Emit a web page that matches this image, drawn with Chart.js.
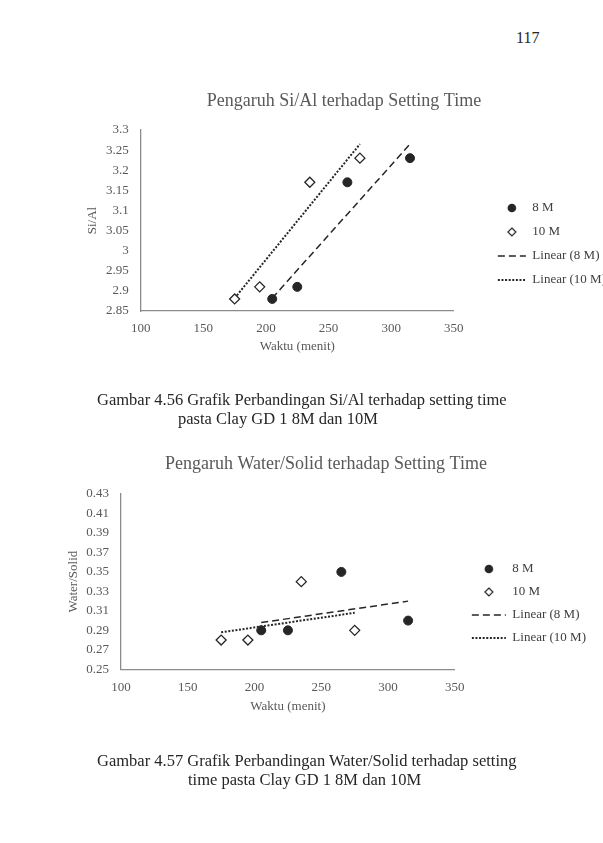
<!DOCTYPE html>
<html>
<head>
<meta charset="utf-8">
<script src="https://cdn.jsdelivr.net/npm/chart.js@4.4.1/dist/chart.umd.min.js"></script>
<style>
html, body { margin: 0; padding: 0; width: 603px; height: 843px; overflow: hidden; background: #fff; }
body { position: relative; font-family: "Liberation Serif", "Times New Roman", serif; color: #262626; }
canvas { position: absolute; }
.txt { position: absolute; white-space: nowrap; font-size: 16.5px; line-height: 20px; }
</style>
</head>
<body>
<div class="txt" style="left:516px; top:28px; font-size:16px;">117</div>

<canvas id="chart1" width="544" height="328" style="left:72px; top:80px;"></canvas>
<div class="txt" style="left:97px; top:390px;">Gambar 4.56 Grafik Perbandingan Si/Al terhadap setting time</div>
<div class="txt" style="left:178px; top:409px;">pasta Clay GD 1 8M dan 10M</div>

<canvas id="chart2" width="540" height="321" style="left:56px; top:443px;"></canvas>
<div class="txt" style="left:97px; top:751px;">Gambar 4.57 Grafik Perbandingan Water/Solid terhadap setting</div>
<div class="txt" style="left:188px; top:770px;">time pasta Clay GD 1 8M dan 10M</div>

<script>
// setting time (menit) for each sample
var waktu8M = [205, 225, 265, 315];
var waktu10M = [175, 195, 235, 275];

// Si/Al ratio
var siAl8M = [2.88, 2.91, 3.17, 3.23];
var siAl10M = [2.88, 2.91, 3.17, 3.23];

// water/solid ratio
var ws8M = [0.29, 0.29, 0.35, 0.30];
var ws10M = [0.28, 0.28, 0.34, 0.29];

// trendline end points
var trendX8M = [205, 315];
var trendX10M = [175, 275];
var siAlTrend8M = [2.882, 3.265];
var siAlTrend10M = [2.882, 3.265];
var wsTrend8M = [0.298, 0.320];
var wsTrend10M = [0.288, 0.308];

// tick labels
var xTicks = [100, 150, 200, 250, 300, 350];
var siAlTicks = [2.85, 2.9, 2.95, 3, 3.05, 3.1, 3.15, 3.2, 3.25, 3.3];
var siAlTickLabels = ['2.85', '2.9', '2.95', '3', '3.05', '3.1', '3.15', '3.2', '3.25', '3.3'];
var wsTicks = [0.25, 0.27, 0.29, 0.31, 0.33, 0.35, 0.37, 0.39, 0.41, 0.43];
var wsTickLabels = ['0.25', '0.27', '0.29', '0.31', '0.33', '0.35', '0.37', '0.39', '0.41', '0.43'];

var seriesNames = ['8 M', '10 M', 'Linear (8 M)', 'Linear (10 M)'];

Chart.defaults.font.family = "'Liberation Serif', 'Times New Roman', serif";
Chart.defaults.color = '#595959';

function points(xs, ys) {
    return xs.map(function(x, i) { return {x: x, y: ys[i]}; });
}

// small legend glyphs, so that pointStyleWidth only stretches the lines
function glyph(kind) {
    var c = document.createElement('canvas');
    c.width = 12; c.height = 12;
    var g = c.getContext('2d');
    g.beginPath();
    if (kind === 'circle') {
        g.arc(6, 6, 4.3, 0, Math.PI * 2);
        g.fillStyle = '#262626';
        g.fill();
    } else {
        g.moveTo(6, 2); g.lineTo(10, 6); g.lineTo(6, 10); g.lineTo(2, 6); g.closePath();
        g.fillStyle = '#fff';
        g.fill();
        g.lineWidth = 1.2;
        g.strokeStyle = '#262626';
        g.stroke();
    }
    return c;
}
var legendGlyphs = [glyph('circle'), glyph('diamond')];

function legendLabels(chart) {
    var items = Chart.defaults.plugins.legend.labels.generateLabels(chart);
    items.forEach(function(it) {
        var ds = chart.data.datasets[it.datasetIndex];
        if (ds.trend) {
            it.pointStyle = 'line';
            it.lineDash = ds.borderDash;
            it.lineWidth = ds.borderWidth;
            it.strokeStyle = ds.borderColor;
        } else {
            it.pointStyle = legendGlyphs[it.datasetIndex];
        }
    });
    return items;
}

function makeChart(id, s) {
    var ctx = document.getElementById(id).getContext('2d');
    return new Chart(ctx, {
        type: 'scatter',
        data: {
            datasets: [{
                label: seriesNames[0],
                data: points(waktu8M, s.y8),
                pointStyle: 'circle',
                pointRadius: 4.5,
                backgroundColor: '#262626',
                borderColor: '#262626',
                borderWidth: 1
            }, {
                label: seriesNames[1],
                data: points(waktu10M, s.y10),
                pointStyle: 'rectRot',
                pointRadius: 5,
                backgroundColor: '#ffffff',
                borderColor: '#262626',
                borderWidth: 1.3
            }, {
                label: seriesNames[2],
                data: points(trendX8M, s.t8),
                trend: true,
                showLine: true,
                pointRadius: 0,
                borderColor: '#262626',
                borderWidth: 1.5,
                borderDash: [7, 4]
            }, {
                label: seriesNames[3],
                data: points(trendX10M, s.t10),
                trend: true,
                showLine: true,
                pointRadius: 0,
                borderColor: '#262626',
                borderWidth: 2,
                borderDash: [2, 1.6]
            }]
        },
        options: {
            responsive: false,
            animation: false,
            devicePixelRatio: 1,
            layout: { padding: 0 },
            plugins: {
                tooltip: { enabled: false },
                title: {
                    display: true,
                    text: s.title,
                    color: '#595959',
                    font: { size: 18, weight: 'normal' },
                    padding: { top: 10, bottom: s.titleGap }
                },
                legend: {
                    position: 'right',
                    align: 'center',
                    maxWidth: 220,
                    labels: {
                        usePointStyle: true,
                        pointStyleWidth: s.boxW,
                        boxHeight: 6,
                        padding: s.legPad,
                        color: '#404040',
                        font: { size: 13 },
                        generateLabels: legendLabels
                    }
                }
            },
            scales: {
                x: {
                    type: 'linear',
                    min: 100,
                    max: 350,
                    afterBuildTicks: function(sc) { sc.ticks = xTicks.map(function(v) { return {value: v}; }); },
                    afterFit: function(sc) { sc.height = s.xHeight; },
                    ticks: { font: { size: 13 }, padding: 10, maxRotation: 0, autoSkip: false },
                    grid: { display: false, drawTicks: false },
                    border: { color: '#8c8c8c', width: 1.3 },
                    title: { display: true, text: 'Waktu (menit)', font: { size: 13 }, padding: { top: 4, bottom: s.xTitleBottom } }
                },
                y: {
                    type: 'linear',
                    min: s.yTicks[0],
                    max: s.yTicks[s.yTicks.length - 1],
                    afterBuildTicks: function(sc) { sc.ticks = s.yTicks.map(function(v) { return {value: v}; }); },
                    afterFit: function(sc) { sc.width = s.yWidth; },
                    ticks: {
                        font: { size: 13 },
                        padding: 12,
                        autoSkip: false,
                        callback: function(v, i) { return s.yLabels[i]; }
                    },
                    grid: { display: false, drawTicks: false },
                    border: { color: '#8c8c8c', width: 1.3 },
                    title: { display: true, text: s.yTitle, font: { size: 13 }, padding: { top: s.yTitleTop, bottom: 0 } }
                },
                gap: {
                    axis: 'y',
                    type: 'linear',
                    position: 'right',
                    afterFit: function(sc) { sc.width = s.gap; },
                    ticks: { display: false },
                    grid: { display: false, drawTicks: false },
                    border: { display: false }
                }
            }
        }
    });
}

makeChart('chart1', {
    title: 'Pengaruh Si/Al terhadap Setting Time',
    y8: siAl8M, y10: siAl10M, t8: siAlTrend8M, t10: siAlTrend10M,
    yTicks: siAlTicks, yLabels: siAlTickLabels, yTitle: 'Si/Al',
    titleGap: 18.4, xHeight: 97, xTitleBottom: 53.2, yWidth: 68.7, yTitleTop: 13,
    gap: 33, boxW: 28, legPad: 11
});

makeChart('chart2', {
    title: 'Pengaruh Water/Solid terhadap Setting Time',
    y8: ws8M, y10: ws10M, t8: wsTrend8M, t10: wsTrend10M,
    yTicks: wsTicks, yLabels: wsTickLabels, yTitle: 'Water/Solid',
    titleGap: 19.4, xHeight: 94.7, xTitleBottom: 49.5, yWidth: 65, yTitleTop: 10.2,
    gap: 7, boxW: 34, legPad: 10
});
</script>
</body>
</html>
